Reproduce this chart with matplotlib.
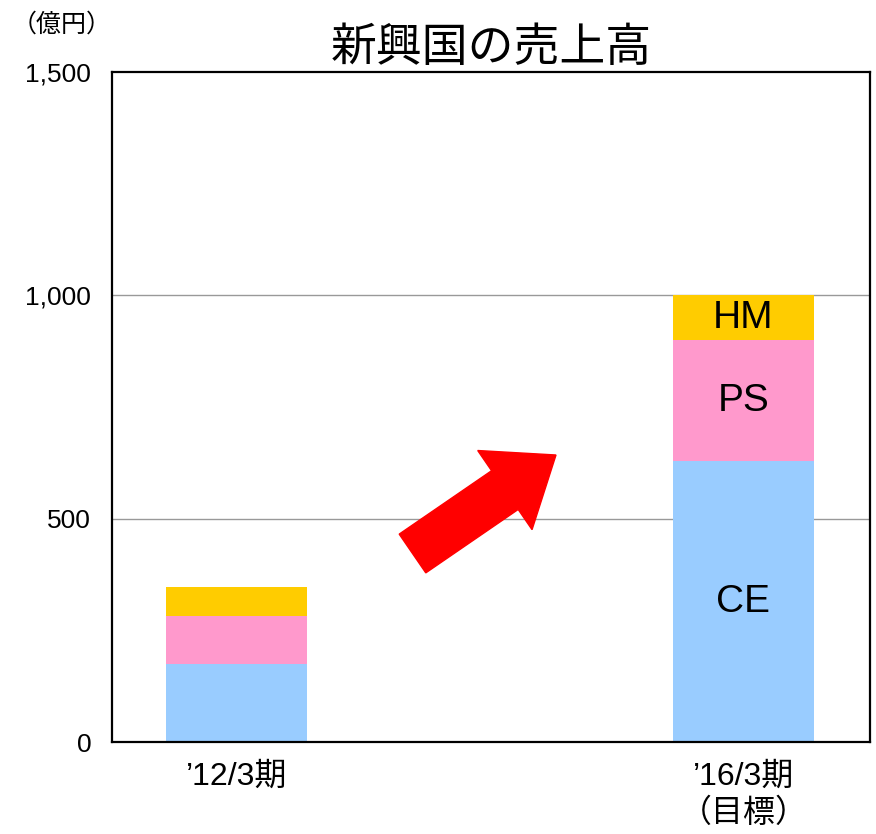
import matplotlib.pyplot as plt
import matplotlib.patches as mpatches
from matplotlib.transforms import Affine2D

plt.rcParams['font.family'] = ['Liberation Sans', 'Noto Sans CJK JP', 'DejaVu Sans']

# data (億円)
periods = ['’12/3期', '’16/3期\n（目標）']
segments = ['CE', 'PS', 'HM']
ce = [175, 628]
ps = [108, 272]
hm = [65, 100]
colors = ['#99CCFF', '#FF99CC', '#FFCC00']
yticks = [0, 500, 1000, 1500]
ytick_labels = ['0', '500', '1,000', '1,500']

fig = plt.figure(figsize=(8.76, 8.34), dpi=100)
ax = fig.add_axes([0.1279, 0.1103, 0.8653, 0.8034])

x = [0, 1]
width = 0.279
bottom = [0, 0]
for name, vals, c in zip(segments, [ce, ps, hm], colors):
    ax.bar(x, vals, width, bottom=bottom, color=c, zorder=2)
    # segment labels only on the target bar
    ax.text(x[1], bottom[1] + vals[1] / 2, name, ha='center', va='center',
            fontsize=28, zorder=3)
    bottom = [b + v for b, v in zip(bottom, vals)]

ax.set_xlim(-0.246, 1.25)
ax.set_ylim(0, 1500)
ax.set_yticks(yticks)
ax.set_yticklabels(ytick_labels, fontsize=19)
ax.set_xticks(x)
ax.set_xticklabels(periods, fontsize=23, linespacing=1.3, va='top')
ax.tick_params(axis='y', length=0, pad=15)
ax.tick_params(axis='x', length=0, pad=14)

for y in yticks[1:-1]:
    ax.axhline(y, color='#999999', linewidth=1, zorder=1)

for s in ax.spines.values():
    s.set_linewidth(1.6)
    s.set_color('black')

ax.set_title('新興国の売上高', fontsize=33, pad=8,
             family=['Noto Sans CJK JP', 'DejaVu Sans'])
fig.text(0.07, 0.971, '（億円）', fontsize=18, ha='center', va='center',
         family=['Noto Sans CJK JP', 'DejaVu Sans'])

# red growth arrow, drawn in figure pixels
px = Affine2D().scale(1 / 100) + fig.dpi_scale_trans
arrow = mpatches.FancyArrow(412.5, 834 - 553.5, 143.5, 98.5, width=47,
                            head_width=96, head_length=62,
                            length_includes_head=True, color='#FF0000',
                            transform=px, zorder=5)
fig.patches.append(arrow)

fig.savefig('out.png', dpi=100)
